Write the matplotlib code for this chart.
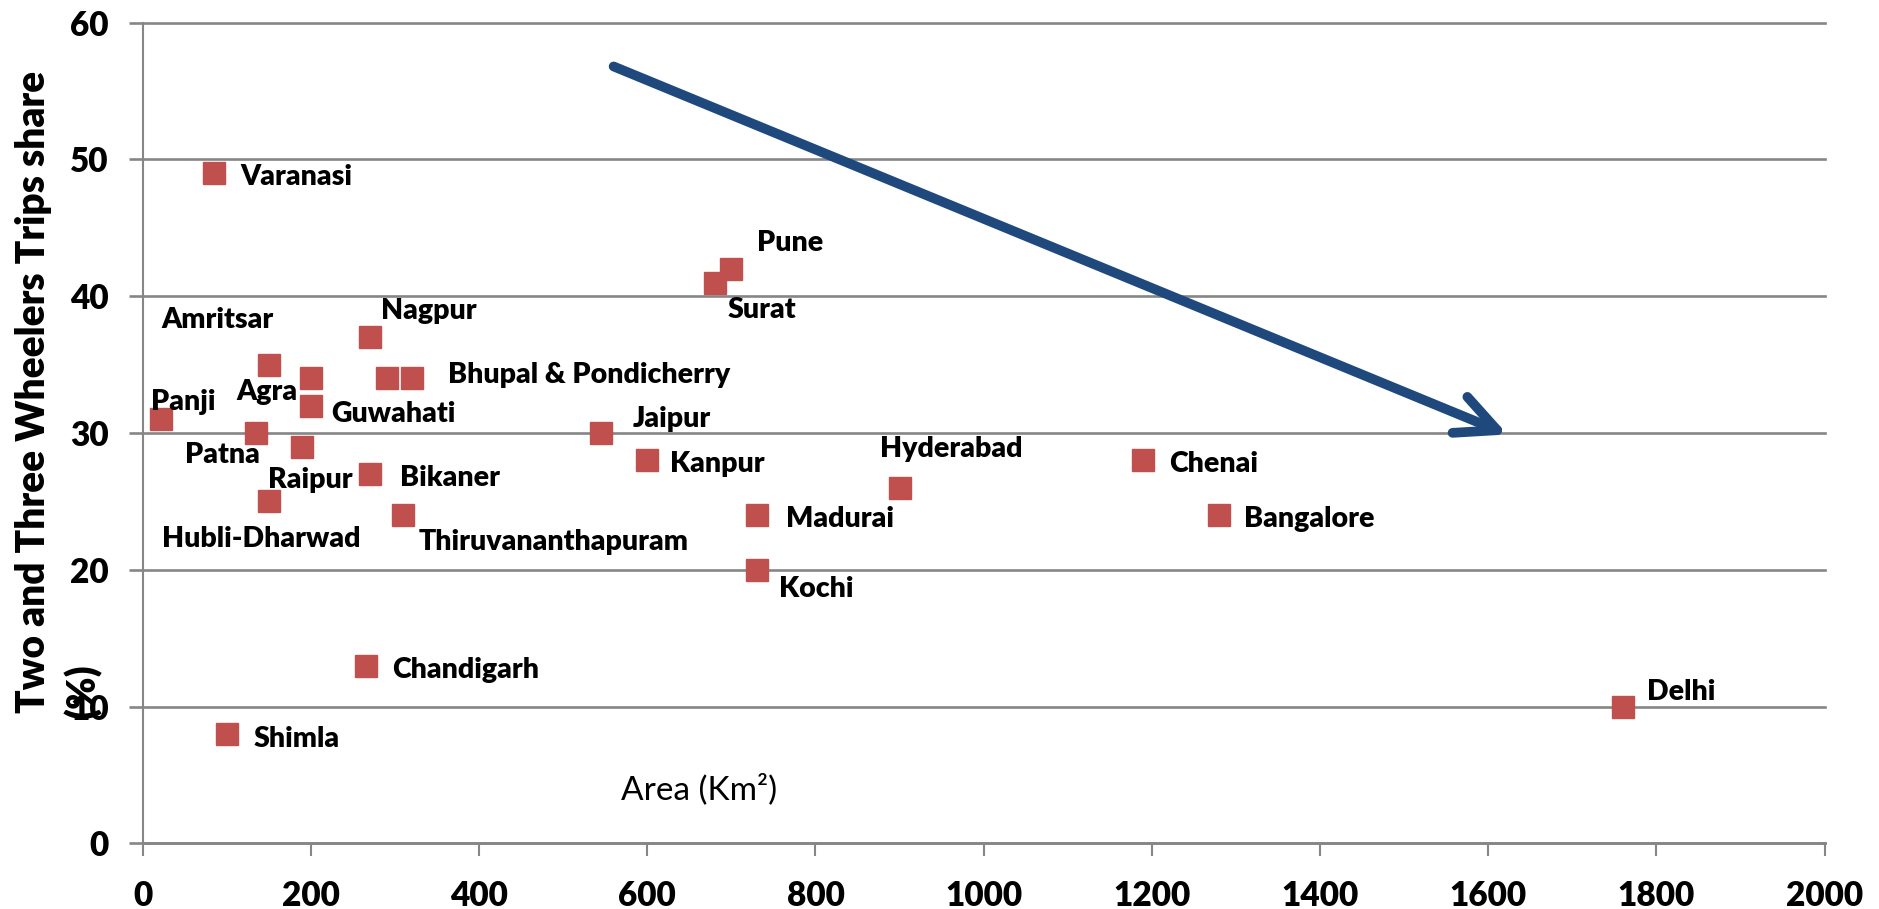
import matplotlib
matplotlib.use("Agg")
import matplotlib.pyplot as plt
from matplotlib.patches import FancyArrowPatch

# city area (km2) vs share of two/three wheeler trips (%)
cities = ["Varanasi", "Pune", "Surat", "Nagpur", "Amritsar", "Agra",
          "Bhupal", "Pondicherry", "Panji", "Guwahati", "Patna", "Jaipur",
          "Raipur", "Kanpur", "Bikaner", "Chenai", "Hyderabad",
          "Hubli-Dharwad", "Thiruvananthapuram", "Madurai", "Bangalore",
          "Kochi", "Chandigarh", "Delhi", "Shimla"]
area = [85, 700, 680, 270, 150, 200, 290, 320, 22, 200, 135, 545,
        190, 600, 270, 1190, 900, 150, 310, 730, 1280, 730, 265, 1760, 100]
share = [49, 42, 41, 37, 35, 34, 34, 34, 31, 32, 30, 30,
         29, 28, 27, 28, 26, 25, 24, 24, 24, 20, 13, 10, 8]

# text drawn next to each marker (Bhupal and Pondicherry share one label)
labels = ["Varanasi", "Pune", "Surat", "Nagpur", "Amritsar", "Agra",
          "", "Bhupal & Pondicherry", "Panji", "Guwahati", "Patna", "Jaipur",
          "Raipur", "Kanpur", "Bikaner", "Chenai", "Hyderabad",
          "Hubli-Dharwad", "Thiruvananthapuram", "Madurai", "Bangalore",
          "Kochi", "Chandigarh", "Delhi", "Shimla"]

# label offsets from the marker, in points (left edge, baseline)
label_offsets = [(19, -8.4), (18.2, 12.6), (9.4, -25.6), (8.1, 13.1),
                 (-77.2, 26.4), (-53.9, -15.5), (0, 0), (26.3, -3.0),
                 (-7.6, 6.9), (15, -11.4), (-51.3, -21.2), (23.2, 4.7),
                 (-24.6, -29.8), (16.6, -8.0), (21.7, -8.2), (18.3, -8.0),
                 (-14.4, 22.5), (-77.2, -32.9), (11.2, -25.0), (21.3, -8.2),
                 (17.8, -8.2), (15.8, -19.2), (18.8, -9.1), (17.4, 4.9),
                 (19.1, -9.1)]

x_ticks = list(range(0, 2001, 200))
y_ticks = list(range(0, 61, 10))

# trend arrow (data coordinates)
arrow_start = (560, 56.8)
arrow_end = (1623, 29.9)

plt.rcParams["font.family"] = ["Lato", "DejaVu Sans"]

grid_grey = "#868686"
marker_red = "#C0504D"
arrow_blue = "#1F497D"

fig = plt.figure(figsize=(18.79, 9.09), dpi=100)
ax = fig.add_axes([0.07594, 0.07206, 0.8951, 0.9030])

ax.set_xlim(0, 2000)
ax.set_ylim(0, 60)
ax.set_xticks(x_ticks)
ax.set_yticks(y_ticks)
ax.set_xticklabels([str(v) for v in x_ticks])
ax.set_yticklabels([str(v) for v in y_ticks])
for lbl in ax.get_xticklabels() + ax.get_yticklabels():
    lbl.set_fontsize(24)
    lbl.set_fontweight("heavy")

for side in ["top", "right"]:
    ax.spines[side].set_visible(False)
for side in ["left", "bottom"]:
    ax.spines[side].set_color(grid_grey)
ax.spines["left"].set_linewidth(1.5)
ax.spines["bottom"].set_linewidth(1.9)

ax.tick_params(axis="y", direction="out", length=10, width=1.9,
               color=grid_grey, pad=14.5)
ax.tick_params(axis="x", direction="out", length=9.5, width=1.5,
               color=grid_grey, pad=17)

ax.yaxis.grid(True, color=grid_grey, linewidth=1.9)
ax.set_axisbelow(True)
for line in ax.get_ygridlines():
    line.set_clip_on(False)

ax.plot(area, share, linestyle="none", marker="s", markersize=15.8,
        color=marker_red, markeredgecolor=marker_red, zorder=3)

for x, y, name, (dx, dy) in zip(area, share, labels, label_offsets):
    if not name:
        continue
    ax.annotate(name, (x, y), xytext=(dx, dy), textcoords="offset points",
                ha="left", va="baseline", fontsize=20.5, fontweight="heavy",
                color="black", zorder=4)

arrow = FancyArrowPatch(arrow_start, arrow_end,
                        arrowstyle="->,head_length=2.9,head_width=1.4",
                        mutation_scale=10, color=arrow_blue, linewidth=7,
                        capstyle="round", joinstyle="round",
                        shrinkA=0, shrinkB=0, zorder=5)
ax.add_patch(arrow)

ax.set_xlabel("Area (Km²)", fontsize=24, va="center")
ax.xaxis.set_label_coords(0.331, 0.066)

# y axis title, second line sits over the "10" tick label
fig.text(0.008, 0.2156, "Two and Three Wheelers Trips share",
         rotation=90, ha="left", va="bottom",
         fontsize=28, fontweight="heavy")
fig.text(0.034, 0.21, "(%)", rotation=90, ha="left", va="bottom",
         fontsize=28, fontweight="heavy")

fig.savefig("out.png", dpi=100)
